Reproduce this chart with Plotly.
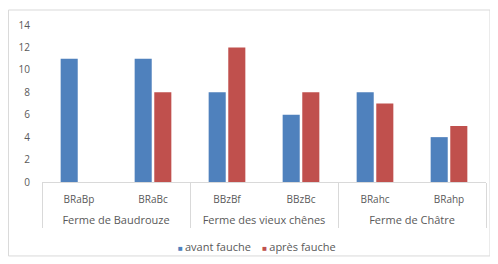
import plotly.graph_objects as go

groups = ["Ferme de Baudrouze", "Ferme de Baudrouze", "Ferme des vieux chênes",
          "Ferme des vieux chênes", "Ferme de Châtre", "Ferme de Châtre"]
sites = ["BRaBp", "BRaBc", "BBzBf", "BBzBc", "BRahc", "BRahp"]
avant = [11, 11, 8, 6, 8, 4]
apres = [None, 8, 12, 8, 7, 5]
y_ticks = [0, 2, 4, 6, 8, 10, 12, 14]
series_names = ["avant fauche", "après fauche"]
colors = ["#4F81BD", "#C0504D"]

# group labels sit one line lower, in a slightly larger font
group_labels = [f"<br><span style='font-size:11px'>{g}</span>" for g in groups]

fig = go.Figure()
fig.add_trace(go.Bar(x=[group_labels, sites], y=avant, name=series_names[0],
                     marker=dict(color=colors[0], line=dict(width=0))))
fig.add_trace(go.Bar(x=[group_labels, sites], y=apres, name=series_names[1],
                     marker=dict(color=colors[1], line=dict(width=0))))

font_c = "#595959"
fam = "Open Sans, Liberation Sans, sans-serif"
legend_text = "    ".join(
    f"<span style='color:{c};font-size:8px'>■ </span>{n}" for c, n in zip(colors, series_names))

# page body has an 8px default margin, so the figure is 8px smaller
fig.update_layout(
    width=490, height=256,
    margin=dict(l=34, r=12, t=17, b=82, autoexpand=False),
    paper_bgcolor="white", plot_bgcolor="white",
    barmode="group", bargap=0.47, bargroupgap=0.13,
    font=dict(family=fam, size=10, color=font_c),
    showlegend=False,
    xaxis=dict(type="multicategory", showline=True, linecolor="#D9D9D9", linewidth=1,
               showdividers=True, dividercolor="#D9D9D9", dividerwidth=1,
               ticks="", tickfont=dict(size=10, color=font_c), showgrid=False,
               automargin=False, ticklabelstandoff=8),
    yaxis=dict(range=[0, 14], tickvals=y_ticks, showgrid=False, zeroline=False,
               showline=False, ticks="", tickfont=dict(size=10, color=font_c),
               automargin=False, ticklabelstandoff=11),
    annotations=[dict(text=legend_text, xref="paper", yref="paper", x=0.485, y=-0.414,
                      xanchor="center", yanchor="middle", showarrow=False,
                      font=dict(size=11, color=font_c, family=fam))],
    shapes=[dict(type="rect", xref="paper", yref="paper", x0=-0.0755, x1=1.009,
                 y0=-0.471, y1=1.0955, line=dict(color="#D9D9D9", width=1),
                 fillcolor="rgba(0,0,0,0)", layer="below")],
)
fig.write_html("out.html")
